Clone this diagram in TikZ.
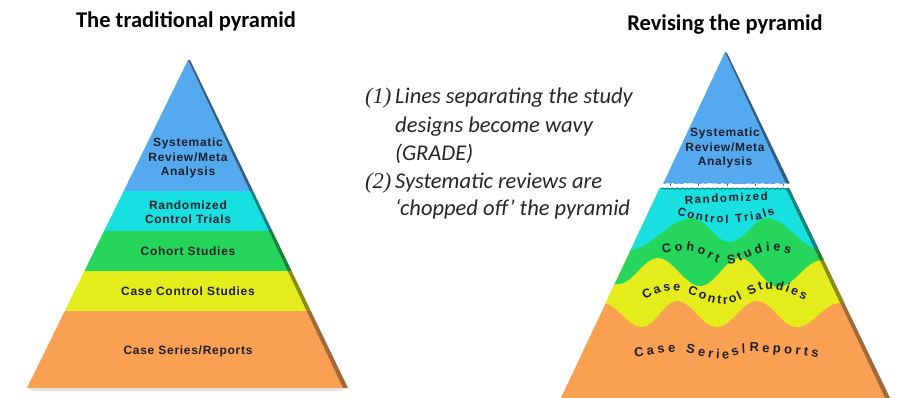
\documentclass[tikz,border=0pt]{standalone}
\usepackage{fontspec}
\setmainfont{Carlito}
\newfontfamily\numfont{Liberation Serif}
\newfontfamily\pyrfont[LetterSpace=6]{Liberation Sans}
\newfontfamily\crvfont{Liberation Sans}
\usetikzlibrary{decorations.text,decorations.pathmorphing}
\definecolor{pblue}{HTML}{55AAEF}
\definecolor{pcyan}{HTML}{18E0E0}
\definecolor{pgreen}{HTML}{26D65C}
\definecolor{pyellow}{HTML}{E4EC1C}
\definecolor{porange}{HTML}{F9A052}
\colorlet{dblue}{pblue!55!black}
\colorlet{dcyan}{pcyan!60!black}
\colorlet{dgreen}{pgreen!60!black}
\colorlet{dyellow}{pyellow!60!black}
\colorlet{dorange}{porange!65!black}
\definecolor{ink}{HTML}{1C1F2A}
\definecolor{bodytext}{HTML}{262626}
\newcommand\crvS{\crvfont\bfseries\fontsize{11.5}{13}\selectfont\color{ink}}
\newcommand\crvM{\crvfont\bfseries\fontsize{12.5}{14}\selectfont\color{ink}}
\newcommand\crvL{\crvfont\bfseries\fontsize{13}{15}\selectfont\color{ink}}
\newcommand\lbands[5]{%
  \fill[#1] (0,50) rectangle (400,191);
  \fill[#2] (0,191) rectangle (400,231);
  \fill[#3] (0,231) rectangle (400,271);
  \fill[#4] (0,271) rectangle (400,311);
  \fill[#5] (0,311) rectangle (400,392);}
\newcommand\rbands[4]{%
  \fill[#4] (540,170) rectangle (900,402);
  \fill[#3] (540,170) -- (540,303) -- (602,303) .. controls (617,303) and (627,327) .. (642,327) .. controls (655,327) and (664,301) .. (677,301) .. controls (692,301) and (702,327) .. (717,327) .. controls (732,327) and (742,301) .. (757,301) .. controls (772,301) and (782,327) .. (797,327) .. controls (813,327) and (824,303) .. (840,303) -- (900,303) -- (900,170) -- cycle;
  \fill[#2] (540,170) -- (540,284) -- (618,284) .. controls (633,284) and (643,258) .. (658,258) .. controls (673,258) and (685,286) .. (700,286) .. controls (715,286) and (725,258) .. (740,258) .. controls (754,258) and (764,287) .. (778,287) .. controls (794,287) and (806,260) .. (822,260) -- (900,260) -- (900,170) -- cycle;
  \fill[#1] (540,170) -- (540,250) -- (628,250) .. controls (651,250) and (669,218) .. (692,218) .. controls (706,218) and (716,242) .. (730,242) .. controls (743,242) and (754,218) .. (767,218) .. controls (787,218) and (802,250) .. (822,250) -- (900,250) -- (900,170) -- cycle;}
\tikzset{
  title/.style={font=\bfseries\fontsize{22.5}{27}\selectfont, anchor=base, inner sep=0pt, text=black},
  note/.style={font=\itshape\fontsize{22.5}{27}\selectfont, anchor=base west, inner sep=0pt, text=bodytext},
  num/.style={font=\numfont\itshape\fontsize{22.5}{27}\selectfont, anchor=base west, inner sep=0pt, text=bodytext},
  lab/.style={font=\pyrfont\bfseries\fontsize{12}{14.5}\selectfont, align=center, text=ink, inner sep=0pt},
  crvpath/.style={decorate},
}
\begin{document}
\begin{tikzpicture}[x=1pt,y=-1pt]
\useasboundingbox (0,0) rectangle (897,397);
\fill[white] (0,0) rectangle (897,397);

% titles
\node[title] (t1) at (186,27) {The traditional pyramid};
\node[title] (t2) at (725,30) {Revising the pyramid};

% left pyramid
\fill[black!10] (30,388) -- (345,388) -- (342,391) -- (33,391) -- cycle;
\begin{scope}
  \clip (188,60) -- (27,388) -- (343,388) -- cycle;
  \lbands{pblue}{pcyan}{pgreen}{pyellow}{porange}
\end{scope}
\begin{scope}
  \clip (188,60) -- (190,60) -- (348,388) -- (343,388) -- cycle;
  \lbands{dblue}{dcyan}{dgreen}{dyellow}{dorange}
\end{scope}
\node[lab] (l1) at (188,158) {Systematic\\Review/Meta\\Analysis};
\node[lab] (l2) at (188,212) {Randomized\\Control Trials};
\node[lab] (l3) at (188,251) {Cohort Studies};
\node[lab] (l4) at (188,291) {Case Control Studies};
\node[lab] (l5) at (188,351) {Case Series/Reports};

% middle notes
\node[num] (n1) at (365,103) {(1)};
\node[note] (a1) at (395,103) {Lines separating the study};
\node[note] (a2) at (395,132) {designs become wavy};
\node[note] (a3) at (395,160) {(GRADE)};
\node[num] (n2) at (365,188) {(2)};
\node[note] (b1) at (395,188) {Systematic reviews are};
\node[note] (b2) at (395,215) {‘chopped off’ the pyramid};

% right pyramid: chopped top
\fill[pblue] (725,52) -- (663,184) -- (786,184) -- cycle;
\fill[dblue] (725,52) -- (727,53) -- (790,184) -- (786,184) -- cycle;
\node[lab] (r1) at (725,148) {Systematic\\Review/Meta\\Analysis};
\draw[white, line width=3pt, decorate, decoration={random steps, segment length=2.5pt, amplitude=1pt}] (658,185.5) -- (794,185.5);
\foreach \t in {670,698,727,755,783} \draw[black!60, line width=0.6pt] (\t,183.6) -- (\t,186);

% right pyramid: wavy lower part
\begin{scope}
  \clip (660,188) -- (560,400) -- (886,400) -- (786,188) -- cycle;
  \rbands{pcyan}{pgreen}{pyellow}{porange}
\end{scope}
\begin{scope}
  \clip (786,188) -- (789,188) -- (891,400) -- (886,400) -- cycle;
  \rbands{dcyan}{dgreen}{dyellow}{dorange}
\end{scope}
\draw[dcyan, line width=1pt, decorate, decoration={snake, amplitude=0.6pt, segment length=5pt}] (661,188.6) -- (789,188.6);

% curved labels
\path[crvpath, decoration={text along path, text align={fit to path}, text={|\crvS|Randomized}}] (685,204) .. controls (710,202.5) and (745,201) .. (768,200.5);
\path[crvpath, decoration={text along path, text align={fit to path}, text={|\crvS|Control Trials}}] (677,214) .. controls (705,226) and (748,226) .. (775,214);
\path[crvpath, decoration={text along path, text align={fit to path}, text={|\crvM|Cohort Studies}}] (663,254) .. controls (671,252) and (678,251) .. (686,251) .. controls (701,251) and (712,264) .. (727,264) .. controls (743,264) and (754,251) .. (770,251) .. controls (778,251) and (784,252.5) .. (790,254);
\path[crvpath, decoration={text along path, text align={fit to path}, text={|\crvM|Case Control Studies}}] (645,299.5) .. controls (653,295) and (661,291) .. (670,291) .. controls (690,291) and (704,304) .. (724,304) .. controls (741,304) and (753,289) .. (770,289) .. controls (783,289) and (795,296) .. (805,300);
\path[crvpath, decoration={text along path, text align={fit to path}, text={|\crvL|Case Series/Reports}}] (635,357.5) .. controls (650,355) and (662,352) .. (675,352) .. controls (692,352) and (705,359) .. (722,359) .. controls (733,359) and (741,352) .. (752,352) .. controls (775,352) and (800,355) .. (818,358);
\end{tikzpicture}
\end{document}
